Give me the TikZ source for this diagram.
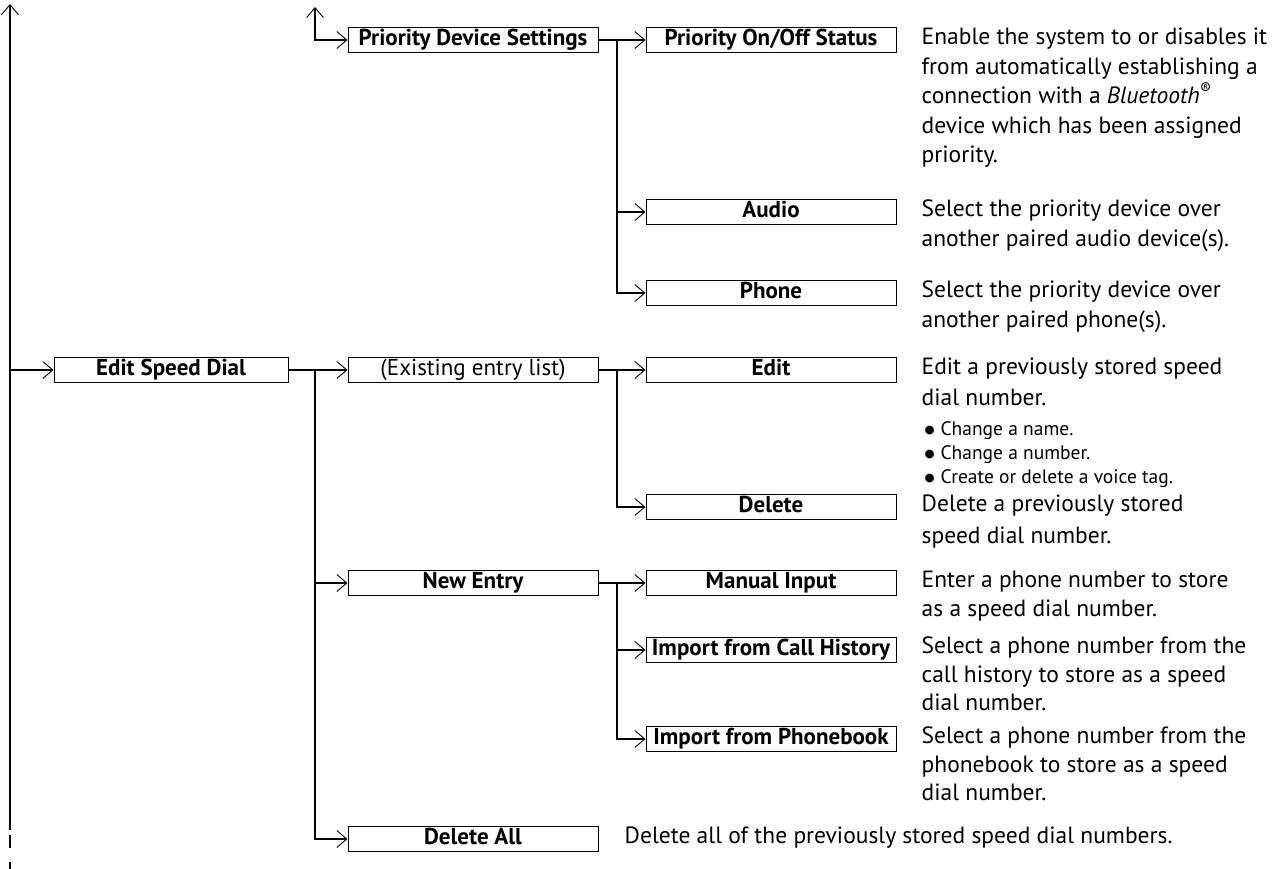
\documentclass[tikz,border=0pt]{standalone}
\usepackage{fontspec}
\setmainfont{PT Sans}
\newfontfamily\dotfont{DejaVu Sans}
\usetikzlibrary{arrows.meta,positioning}

\newcommand{\descsize}{\fontsize{23.5}{29.5}\selectfont}
\newcommand{\menusize}{\fontsize{23}{25}\selectfont}
\newcommand{\notesize}{\fontsize{19.5}{24}\selectfont}
\newcommand{\notedot}{\raisebox{2.8pt}{\dotfont\fontsize{11.5}{12}\selectfont ●}\hspace{0.3em}}

\begin{document}
\begin{tikzpicture}[x=1pt,y=-1pt,>={Straight Barb[length=10pt,width=17pt,line width=0.9pt]},
  menu/.style={draw,line width=1pt,minimum width=250pt,minimum height=25pt,inner sep=0pt,
    text height=16.5pt,text depth=5pt,font=\menusize\bfseries},
  desc/.style={inner sep=0pt,align=left,font=\descsize},
  note/.style={inner sep=0pt,align=left,font=\notesize},
  link/.style={line width=2pt}]
\useasboundingbox (0,0) rectangle (1280,869);

% menu boxes
\node[menu,minimum width=234pt] (esd) at (171,370) {Edit Speed Dial};
\node[menu] (pds) at (473,40) {Priority Device Settings};
\node[menu,font=\menusize] (exist) at (473,370) {(Existing entry list)};
\node[menu] (newentry) at (473,583) {New Entry};
\node[menu] (delall) at (473,839) {Delete All};
\node[menu] (pstatus) at (771,40) {Priority On/Off Status};
\node[menu] (audio) at (771,212) {Audio};
\node[menu] (phone) at (771,293) {Phone};
\node[menu] (edit) at (771,370) {Edit};
\node[menu] (delete) at (771,507) {Delete};
\node[menu] (manual) at (771,583) {Manual Input};
\node[menu] (callhist) at (771,650) {Import from Call History};
\node[menu] (phonebook) at (771,739) {Import from Phonebook};

% descriptions
\node[desc,below right=1pt and 25pt of pstatus.north east] (pstatusdesc) {Enable the system to or disables it\\from automatically establishing a\\connection with a \textit{Bluetooth}\textsuperscript{®}\\device which has been assigned\\priority.};
\node[desc,below right=1pt and 25pt of audio.north east] (audiodesc) {Select the priority device over\\another paired audio device(s).};
\node[desc,below right=1pt and 25pt of phone.north east] (phonedesc) {Select the priority device over\\another paired phone(s).};
\node[desc,below right=1pt and 25pt of edit.north east] (editdesc) {Edit a previously stored speed\\[1pt]dial number.};
\node[note,below right=16pt and 3pt of editdesc.south west] (editnote) {\notedot Change a name.\\\notedot Change a number.\\\notedot Create or delete a voice tag.};
\node[desc,below right=1pt and 25pt of delete.north east] (deletedesc) {Delete a previously stored\\[2pt]speed dial number.};
\node[desc,below right=1pt and 25pt of manual.north east] (manualdesc) {Enter a phone number to store\\[-1pt]as a speed dial number.};
\node[desc,below right=0pt and 25pt of callhist.north east] (callhistdesc) {Select a phone number from the\\[-1pt]call history to store as a speed\\[-1pt]dial number.};
\node[desc,below right=1pt and 25pt of phonebook.north east] (phonebookdesc) {Select a phone number from the\\[-1pt]phonebook to store as a speed\\[-1pt]dial number.};
\node[desc,below right=1pt and 26pt of delall.north east] (delalldesc) {Delete all of the previously stored speed dial numbers.};

% trunk on the left
\coordinate (trunktop) at (10,4);
\coordinate (trunkcut) at (10,830);
\coordinate (trunkdash) at (10,835);
\coordinate (trunkbot) at (10,869);
\draw[link,->] (trunkcut) -- (trunktop);
\draw[link,dash pattern=on 13pt off 14pt] (trunkdash) -- (trunkbot);
\draw[link,->] (esd.west -| trunktop) -- (esd.west);

% up arrow into priority settings
\coordinate (pdsup) at (315,7);
\draw[link,<->] (pdsup) |- (pds.west);

% forks
\coordinate (pdsfork) at (617,40);
\coordinate (esdfork) at (315,370);
\coordinate (existfork) at (617,370);
\coordinate (newfork) at (617,583);
\draw[link,->] (pds) -- (pstatus);
\draw[link,->] (pdsfork) |- (audio);
\draw[link,->] (pdsfork) |- (phone);
\draw[link,->] (esd) -- (exist);
\draw[link,->] (esdfork) |- (newentry);
\draw[link,->] (esdfork) |- (delall);
\draw[link,->] (exist) -- (edit);
\draw[link,->] (existfork) |- (delete);
\draw[link,->] (newentry) -- (manual);
\draw[link,->] (newfork) |- (callhist);
\draw[link,->] (newfork) |- (phonebook);
\end{tikzpicture}
\end{document}
